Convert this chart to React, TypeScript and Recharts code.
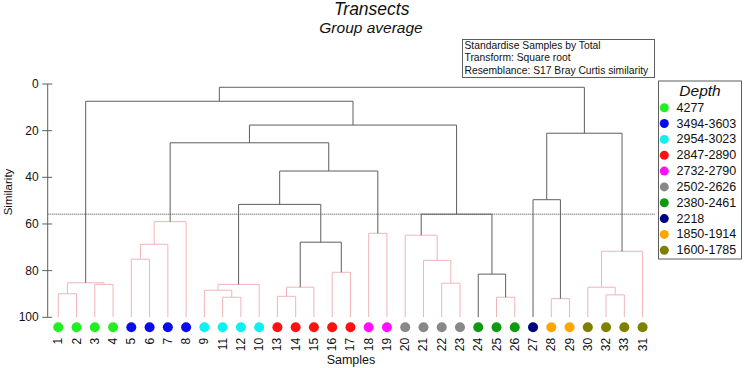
import React from 'react';
import { ComposedChart, Line, XAxis, YAxis, ReferenceLine } from 'recharts';

// ---- data ----
const leafLabels = ['1','2','3','4','5','6','7','8','9','11','12','10','13','14','15','16','17','18','19','20','21','22','23','24','25','26','27','28','29','30','32','33','31'];
const leafGroups = [0,0,0,0,1,1,1,1,2,2,2,2,3,3,3,3,3,4,4,5,5,5,5,6,6,6,7,8,8,9,9,9,9];
const depthLabels = ['4277','3494-3603','2954-3023','2847-2890','2732-2790','2502-2626','2380-2461','2218','1850-1914','1600-1785'];
const depthColors = ['#22ee22','#0a0aee','#11f0f0','#ff1111','#ff11ff','#888888','#119911','#000080','#ffa500','#808000'];

// merges: [left child, right child, similarity, significant]
const merges: [string, string, number, boolean][] = [
  ['1','2',89.9,false],   // m0
  ['3','4',85.9,false],   // m1
  ['m0','m1',85.2,false], // m2
  ['5','6',75.1,false],   // m3
  ['m3','7',68.7,false],  // m4
  ['m4','8',59.0,false],  // m5
  ['11','12',91.4,false], // m6
  ['9','m6',88.4,false],  // m7
  ['m7','10',85.9,false], // m8
  ['13','14',91.0,false], // m9
  ['m9','15',87.1,false], // m10
  ['16','17',80.7,false], // m11
  ['m10','m11',67.8,true],// m12
  ['m8','m12',51.6,true], // m13
  ['18','19',64.0,false], // m14
  ['m13','m14',37.3,true],// m15
  ['m5','m15',25.2,true], // m16
  ['22','23',85.4,false], // m17
  ['21','m17',75.6,false],// m18
  ['20','m18',64.8,false],// m19
  ['25','26',91.4,false], // m20
  ['24','m20',81.5,true], // m21
  ['m19','m21',55.8,true],// m22
  ['m16','m22',17.6,true],// m23
  ['m2','m23',7.4,true],  // m24
  ['28','29',92.0,false], // m25
  ['27','m25',49.6,true], // m26
  ['32','33',90.4,false], // m27
  ['30','m27',87.1,false],// m28
  ['m28','31',71.7,false],// m29
  ['m26','m29',21.1,true],// m30
  ['m24','m30',1.4,true], // m31
];
const cutLevel = 55.8;
const yTicks = [0,20,40,60,80,100];
const infoLines = ['Standardise Samples by Total','Transform: Square root','Resemblance: S17 Bray Curtis similarity'];

// ---- derived link geometry (data units) ----
const nodePos: Record<string, { x: number; h: number }> = {};
leafLabels.forEach((l, i) => { nodePos[l] = { x: i, h: 100 }; });
const links = merges.map(([a, b, h, sig], i) => {
  const pa = nodePos[a];
  const pb = nodePos[b];
  nodePos['m' + i] = { x: (pa.x + pb.x) / 2, h };
  return {
    sig,
    pts: [
      { x: pa.x, y: pa.h },
      { x: pa.x, y: h },
      { x: pb.x, y: h },
      { x: pb.x, y: pb.h },
    ],
  };
});
const orderedLinks = [...links.filter(l => !l.sig), ...links.filter(l => l.sig)];

const FONT = "'Liberation Sans', Arial, sans-serif";
const GRAY = '#5e5e5e';
const PINK = '#f0b4b9';

const LeafTick = (props: any) => {
  const { x, y, payload } = props;
  const i = payload.value as number;
  const col = depthColors[leafGroups[i]];
  return (
    <g>
      <circle cx={x} cy={y + 10} r={5} fill={col} />
      <text
        x={x}
        y={y + 20.5}
        transform={`rotate(-90, ${x}, ${y + 20.5})`}
        textAnchor="end"
        dominantBaseline="central"
        fontFamily={FONT}
        fontSize={12}
        fill="#111"
      >
        {leafLabels[i]}
      </text>
    </g>
  );
};

const SimTick = (props: any) => {
  const { x, y, payload } = props;
  return (
    <g>
      <line x1={x - 5.5} x2={x + 4.5} y1={y} y2={y} stroke={GRAY} strokeWidth={1} />
      <text x={x - 9} y={y} textAnchor="end" dominantBaseline="central" fontFamily={FONT} fontSize={12} fill="#111">
        {payload.value}
      </text>
    </g>
  );
};

export default function App() {
  return (
    <div style={{ position: 'absolute', left: 0, top: 0, width: 744, height: 368, background: '#fff' }}>
      <ComposedChart width={744} height={368} margin={{ top: 84, right: 89, bottom: 0, left: 0 }}>
        <XAxis
          type="number"
          dataKey="x"
          domain={[-0.58, 32.68]}
          allowDataOverflow
          ticks={leafLabels.map((_, i) => i)}
          interval={0}
          axisLine={false}
          tickLine={false}
          tickSize={0}
          tickMargin={0}
          height={50.7}
          tick={(p: any) => <LeafTick {...p} />}
        />
        <YAxis
          type="number"
          dataKey="y"
          domain={[0, 100]}
          reversed
          allowDataOverflow
          ticks={yTicks}
          interval={0}
          width={47.7}
          axisLine={{ stroke: GRAY, strokeWidth: 1 }}
          tickLine={false}
          tickSize={0}
          tickMargin={0}
          tick={(p: any) => <SimTick {...p} />}
        />
        <ReferenceLine y={cutLevel} stroke="#444" strokeWidth={1} strokeDasharray="1 1" ifOverflow="extendDomain" />
        {orderedLinks.map((l, i) => (
          <Line
            key={i}
            data={l.pts}
            dataKey="y"
            type="linear"
            stroke={l.sig ? GRAY : PINK}
            strokeWidth={1}
            dot={false}
            activeDot={false}
            isAnimationActive={false}
          />
        ))}
      </ComposedChart>
      <svg
        width={744}
        height={368}
        style={{ position: 'absolute', left: 0, top: 0, pointerEvents: 'none' }}
        fontFamily={FONT}
      >
        <text x={371.7} y={15} textAnchor="middle" fontStyle="italic" fontSize={17.5} fill="#111">Transects</text>
        <text x={371} y={32.5} textAnchor="middle" fontStyle="italic" fontSize={15.5} fill="#111">Group average</text>
        <rect x={462.5} y={39.5} width={192} height={38} fill="#fff" stroke={GRAY} strokeWidth={1} />
        {infoLines.map((t, i) => (
          <text key={t} x={464.5} y={45 + i * 12.7} dominantBaseline="central" fontSize={10.3} fill="#111">{t}</text>
        ))}
        <rect x={658.5} y={81} width={83} height={178} fill="#fff" stroke={GRAY} strokeWidth={1} />
        <text x={700} y={90.5} textAnchor="middle" dominantBaseline="central" fontStyle="italic" fontSize={15.5} fill="#111">Depth</text>
        {depthLabels.map((d, i) => (
          <g key={d}>
            <circle cx={664.3} cy={107.7 + i * 15.84} r={4.5} fill={depthColors[i]} />
            <text x={676.5} y={107.7 + i * 15.84} dominantBaseline="central" fontSize={12.5} fill="#111">{d}</text>
          </g>
        ))}
        <text x={351} y={363.5} textAnchor="middle" fontSize={12.5} fill="#111">Samples</text>
        <text x={8} y={192} transform="rotate(-90, 8, 192)" textAnchor="middle" dominantBaseline="central" fontSize={11.5} fill="#111">Similarity</text>
      </svg>
    </div>
  );
}
